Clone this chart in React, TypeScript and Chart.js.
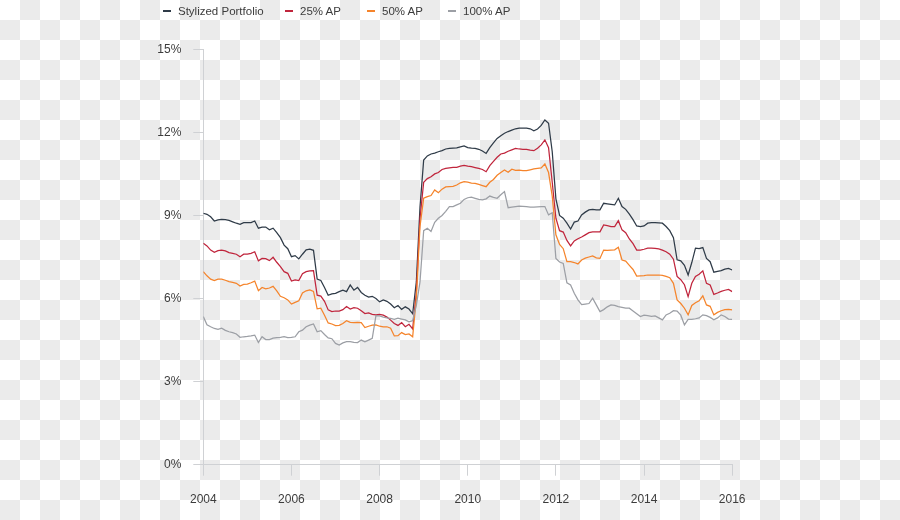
import React, { useEffect, useRef } from "react";
import { Chart, registerables } from "chart.js";

Chart.register(...registerables);

const startYear = 2004;
const seriesNames = ["Stylized Portfolio", "25% AP", "50% AP", "100% AP"];
const seriesColors = ["#2f3b48", "#c0253c", "#f5842b", "#9c9fa5"];
const xTickYears = [2004, 2006, 2008, 2010, 2012, 2014, 2016];
const yTickValues = [0, 3, 6, 9, 12, 15];

// monthly values, Jan 2004 .. Jan 2016 (percent)
const stylized = [
  9.08, 9.04, 8.95, 8.80, 8.84, 8.86, 8.85, 8.82, 8.77, 8.72, 8.68, 8.74,
  8.74, 8.74, 8.80, 8.54, 8.58, 8.58, 8.48, 8.54, 8.38, 8.20, 7.93, 7.80,
  7.51, 7.55, 7.43, 7.60, 7.76, 7.78, 7.74, 6.70, 6.65, 6.40, 6.12, 6.17,
  6.19, 6.25, 6.30, 6.25, 6.49, 6.30, 6.40, 6.22, 6.12, 6.05, 6.08, 6.00,
  5.88, 5.95, 5.90, 5.80, 5.67, 5.75, 5.61, 5.70, 5.62, 5.45, 6.60, 9.30,
  11.00, 11.15, 11.22, 11.25, 11.30, 11.34, 11.40, 11.42, 11.43, 11.44, 11.48, 11.51,
  11.45, 11.43, 11.42, 11.39, 11.33, 11.24, 11.45, 11.62, 11.78, 11.88, 11.97, 12.03,
  12.08, 12.13, 12.15, 12.15, 12.15, 12.13, 12.06, 12.12, 12.25, 12.45, 12.33, 11.30,
  9.60, 9.00, 8.90, 8.72, 8.51, 8.76, 8.80, 9.02, 9.12, 9.20, 9.22, 9.20,
  9.20, 9.44, 9.42, 9.40, 9.38, 9.62, 9.32, 9.22, 9.05, 8.85, 8.62, 8.60,
  8.62, 8.72, 8.74, 8.74, 8.73, 8.72, 8.60, 8.45, 8.20, 7.40, 7.36, 7.20,
  6.85, 7.30, 7.82, 7.80, 7.84, 7.45, 7.33, 6.95, 6.98, 7.01, 7.06, 7.09,
  7.03,
];

const ap25 = [
  8.00, 7.90, 7.75, 7.67, 7.73, 7.75, 7.72, 7.66, 7.63, 7.60, 7.51, 7.60,
  7.60, 7.63, 7.69, 7.36, 7.45, 7.44, 7.37, 7.49, 7.31, 7.15, 6.97, 6.91,
  6.63, 6.67, 6.65, 6.90, 6.97, 7.00, 7.01, 6.12, 6.09, 5.90, 5.59, 5.53,
  5.55, 5.55, 5.60, 5.71, 5.62, 5.67, 5.65, 5.56, 5.46, 5.48, 5.43, 5.41,
  5.43, 5.40, 5.33, 5.22, 5.10, 5.03, 5.13, 4.98, 5.07, 4.90, 6.20, 8.90,
  10.20, 10.33, 10.40, 10.50, 10.55, 10.66, 10.70, 10.72, 10.74, 10.74, 10.78, 10.81,
  10.78, 10.76, 10.73, 10.70, 10.66, 10.58, 10.80, 10.95, 11.10, 11.22, 11.25, 11.32,
  11.37, 11.42, 11.40, 11.39, 11.39, 11.36, 11.34, 11.43, 11.55, 11.73, 11.45, 10.20,
  8.90, 8.45, 8.40, 8.10, 7.90, 8.08, 8.16, 8.22, 8.30, 8.38, 8.41, 8.41,
  8.41, 8.66, 8.63, 8.60, 8.60, 8.81, 8.48, 8.38, 8.15, 7.98, 7.75, 7.75,
  7.78, 7.82, 7.82, 7.81, 7.79, 7.75, 7.69, 7.60, 7.42, 6.80, 6.68, 6.50,
  6.07, 6.55, 6.80, 6.88, 7.00, 6.55, 6.49, 6.15, 6.20, 6.26, 6.30, 6.33,
  6.25,
];

const ap50 = [
  6.97, 6.82, 6.70, 6.65, 6.70, 6.70, 6.66, 6.61, 6.58, 6.55, 6.45, 6.51,
  6.52, 6.57, 6.63, 6.28, 6.40, 6.35, 6.38, 6.44, 6.28, 6.08, 6.03, 5.95,
  5.80, 5.86, 5.92, 6.20, 6.28, 6.31, 6.26, 5.63, 5.65, 5.40, 5.12, 5.08,
  5.02, 5.03, 5.10, 5.20, 5.14, 5.13, 5.14, 5.13, 4.95, 5.00, 5.04, 5.05,
  5.00, 4.98, 4.98, 4.93, 4.65, 4.66, 4.77, 4.70, 4.72, 4.62, 6.00, 8.60,
  9.62, 9.68, 9.72, 9.92, 9.82, 9.95, 10.03, 10.04, 10.05, 10.10, 10.18, 10.22,
  10.20, 10.17, 10.16, 10.12, 10.08, 10.04, 10.20, 10.30, 10.45, 10.55, 10.64, 10.56,
  10.67, 10.63, 10.64, 10.62, 10.62, 10.65, 10.68, 10.70, 10.72, 10.86, 10.55, 9.70,
  8.30, 7.95, 7.80, 7.33, 7.33, 7.30, 7.25, 7.39, 7.46, 7.50, 7.54, 7.47,
  7.45, 7.75, 7.74, 7.75, 7.76, 7.85, 7.39, 7.35, 7.20, 7.05, 6.81, 6.82,
  6.83, 6.85, 6.85, 6.85, 6.85, 6.84, 6.80, 6.75, 6.55, 5.95, 5.82, 5.65,
  5.41, 5.75, 5.85, 5.92, 6.10, 5.77, 5.72, 5.41, 5.50, 5.56, 5.60, 5.61,
  5.59,
];

const ap100 = [
  5.35, 5.05, 4.98, 4.92, 4.89, 4.93, 4.85, 4.80, 4.77, 4.72, 4.60, 4.62,
  4.63, 4.65, 4.68, 4.41, 4.62, 4.52, 4.52, 4.57, 4.59, 4.60, 4.62, 4.59,
  4.60, 4.62, 4.80, 4.86, 4.98, 5.04, 5.08, 4.80, 4.84, 4.70, 4.58, 4.55,
  4.38, 4.32, 4.40, 4.44, 4.44, 4.42, 4.41, 4.50, 4.44, 4.50, 4.56, 5.38,
  5.37, 5.33, 5.30, 5.28, 5.25, 5.29, 5.26, 5.23, 5.16, 5.20, 5.75, 6.60,
  8.45, 8.54, 8.42, 8.75, 8.90, 9.00, 9.15, 9.32, 9.32, 9.38, 9.44, 9.58,
  9.64, 9.66, 9.62, 9.58, 9.56, 9.60, 9.70, 9.65, 9.62, 9.75, 9.86, 9.28,
  9.30, 9.32, 9.34, 9.33, 9.32, 9.30, 9.30, 9.31, 9.32, 9.32, 9.02, 9.10,
  7.45, 7.32, 7.27, 6.57, 6.49, 6.19, 5.95, 5.78, 5.80, 5.82, 6.01, 5.77,
  5.53, 5.60, 5.70, 5.77, 5.75, 5.71, 5.68, 5.65, 5.65, 5.55, 5.45, 5.35,
  5.40, 5.38, 5.36, 5.37, 5.30, 5.23, 5.41, 5.47, 5.56, 5.55, 5.40, 5.05,
  5.25, 5.25, 5.27, 5.30, 5.41, 5.38, 5.32, 5.23, 5.30, 5.41, 5.35, 5.26,
  5.25,
];

const allSeries = [stylized, ap25, ap50, ap100];

const FONT = "'Liberation Sans', Arial, Helvetica, sans-serif";
const AXIS = "#cfd1d4";
const TEXT = "#3c3c3c";

const legendLefts = [163, 285, 367, 448];

export default function App() {
  const ref = useRef<HTMLCanvasElement | null>(null);

  useEffect(() => {
    if (!ref.current) return;
    const datasets = allSeries.map((s, k) => ({
      label: seriesNames[k],
      data: s.map((v, i) => ({ x: startYear + i / 12, y: v })),
      borderColor: seriesColors[k],
      backgroundColor: seriesColors[k],
      borderWidth: 1.25,
      pointRadius: 0,
      tension: 0,
      fill: false,
    }));
    const chart = new Chart(ref.current, {
      type: "line",
      data: { datasets: datasets.slice().reverse() },
      options: {
        responsive: false,
        animation: false,
        layout: { padding: { left: 150, right: 167.8, top: 49.3, bottom: 0 } },
        plugins: { legend: { display: false }, tooltip: { enabled: false } },
        scales: {
          x: {
            type: "linear",
            min: xTickYears[0],
            max: xTickYears[xTickYears.length - 1],
            afterBuildTicks: (scale: any) => {
              scale.ticks = xTickYears.map((v) => ({ value: v }));
            },
            afterFit: (scale: any) => {
              scale.height = 55.3;
            },
            ticks: {
              callback: (v: any) => String(v),
              color: TEXT,
              font: { family: FONT, size: 12 },
              padding: 17,
              maxRotation: 0,
              autoSkip: false,
            },
            grid: {
              drawOnChartArea: false,
              drawTicks: true,
              tickLength: 11,
              color: AXIS,
            },
            border: { display: true, color: AXIS, width: 1 },
          },
          y: {
            type: "linear",
            min: yTickValues[0],
            max: yTickValues[yTickValues.length - 1],
            afterBuildTicks: (scale: any) => {
              scale.ticks = yTickValues.map((v) => ({ value: v }));
            },
            afterFit: (scale: any) => {
              scale.width = 53.3;
            },
            ticks: {
              callback: (v: any) => v + "%",
              color: TEXT,
              font: { family: FONT, size: 12 },
              padding: 12,
            },
            grid: {
              drawOnChartArea: false,
              drawTicks: true,
              tickLength: 10,
              color: AXIS,
            },
            border: { display: true, color: AXIS, width: 1 },
          },
        },
      },
    });
    return () => chart.destroy();
  }, []);

  return (
    <div
      style={{
        position: "fixed",
        left: 0,
        top: 0,
        width: 900,
        height: 520,
        overflow: "hidden",
        background: "repeating-conic-gradient(#ebebeb 0% 25%, #ffffff 0% 50%) 0 0 / 40px 40px",
      }}
    >
      <canvas
        ref={ref}
        width={900}
        height={520}
        style={{ position: "absolute", left: 0, top: 0, width: 900, height: 520 }}
      />
      {seriesNames.map((name, k) => (
        <div
          key={name}
          style={{
            position: "absolute",
            left: legendLefts[k],
            top: 3,
            height: 16,
            display: "flex",
            alignItems: "center",
            fontFamily: FONT,
            fontSize: 11.5,
            color: TEXT,
            whiteSpace: "nowrap",
          }}
        >
          <span
            style={{
              display: "inline-block",
              width: 8,
              height: 1.5,
              background: seriesColors[k],
              marginRight: 7,
            }}
          />
          <span>{name}</span>
        </div>
      ))}
    </div>
  );
}
